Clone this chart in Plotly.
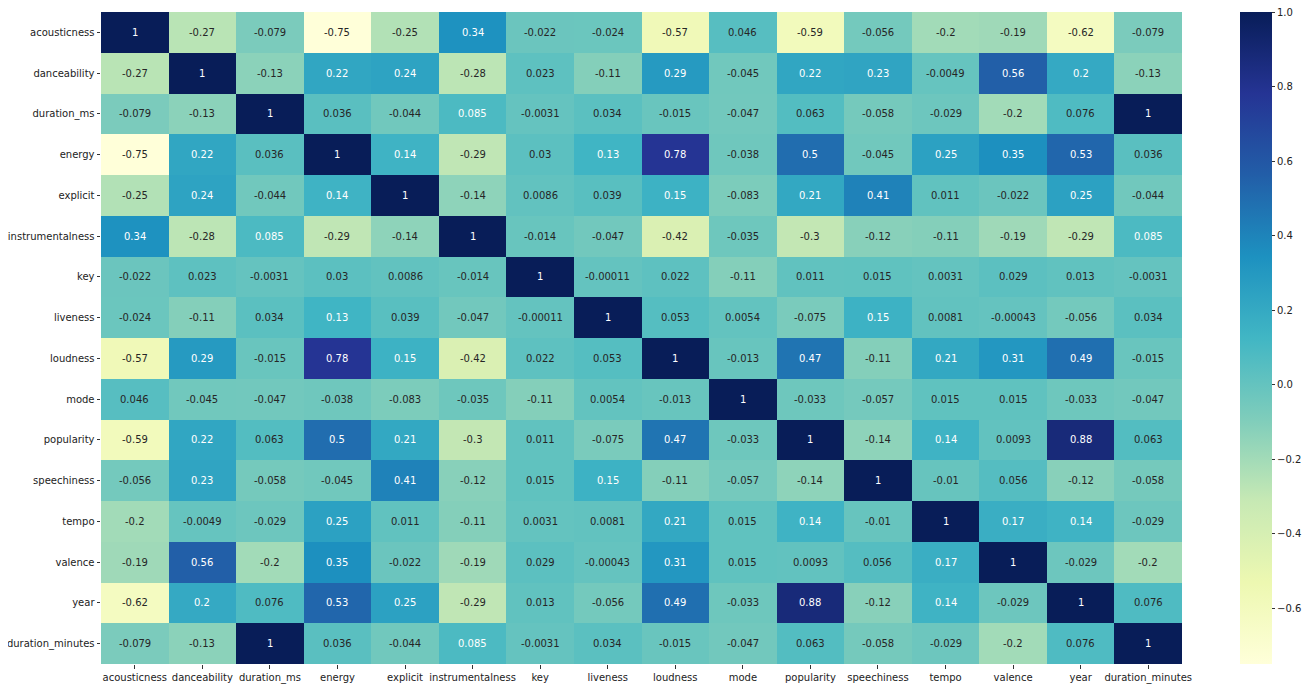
import plotly.graph_objects as go

labels = ["acousticness", "danceability", "duration_ms", "energy", "explicit",
          "instrumentalness", "key", "liveness", "loudness", "mode", "popularity",
          "speechiness", "tempo", "valence", "year", "duration_minutes"]

acousticness = [1, -0.27, -0.079, -0.75, -0.25, 0.34, -0.022, -0.024, -0.57, 0.046, -0.59, -0.056, -0.2, -0.19, -0.62, -0.079]
danceability = [-0.27, 1, -0.13, 0.22, 0.24, -0.28, 0.023, -0.11, 0.29, -0.045, 0.22, 0.23, -0.0049, 0.56, 0.2, -0.13]
duration_ms = [-0.079, -0.13, 1, 0.036, -0.044, 0.085, -0.0031, 0.034, -0.015, -0.047, 0.063, -0.058, -0.029, -0.2, 0.076, 1]
energy = [-0.75, 0.22, 0.036, 1, 0.14, -0.29, 0.03, 0.13, 0.78, -0.038, 0.5, -0.045, 0.25, 0.35, 0.53, 0.036]
explicit = [-0.25, 0.24, -0.044, 0.14, 1, -0.14, 0.0086, 0.039, 0.15, -0.083, 0.21, 0.41, 0.011, -0.022, 0.25, -0.044]
instrumentalness = [0.34, -0.28, 0.085, -0.29, -0.14, 1, -0.014, -0.047, -0.42, -0.035, -0.3, -0.12, -0.11, -0.19, -0.29, 0.085]
key = [-0.022, 0.023, -0.0031, 0.03, 0.0086, -0.014, 1, -0.00011, 0.022, -0.11, 0.011, 0.015, 0.0031, 0.029, 0.013, -0.0031]
liveness = [-0.024, -0.11, 0.034, 0.13, 0.039, -0.047, -0.00011, 1, 0.053, 0.0054, -0.075, 0.15, 0.0081, -0.00043, -0.056, 0.034]
loudness = [-0.57, 0.29, -0.015, 0.78, 0.15, -0.42, 0.022, 0.053, 1, -0.013, 0.47, -0.11, 0.21, 0.31, 0.49, -0.015]
mode = [0.046, -0.045, -0.047, -0.038, -0.083, -0.035, -0.11, 0.0054, -0.013, 1, -0.033, -0.057, 0.015, 0.015, -0.033, -0.047]
popularity = [-0.59, 0.22, 0.063, 0.5, 0.21, -0.3, 0.011, -0.075, 0.47, -0.033, 1, -0.14, 0.14, 0.0093, 0.88, 0.063]
speechiness = [-0.056, 0.23, -0.058, -0.045, 0.41, -0.12, 0.015, 0.15, -0.11, -0.057, -0.14, 1, -0.01, 0.056, -0.12, -0.058]
tempo = [-0.2, -0.0049, -0.029, 0.25, 0.011, -0.11, 0.0031, 0.0081, 0.21, 0.015, 0.14, -0.01, 1, 0.17, 0.14, -0.029]
valence = [-0.19, 0.56, -0.2, 0.35, -0.022, -0.19, 0.029, -0.00043, 0.31, 0.015, 0.0093, 0.056, 0.17, 1, -0.029, -0.2]
year = [-0.62, 0.2, 0.076, 0.53, 0.25, -0.29, 0.013, -0.056, 0.49, -0.033, 0.88, -0.12, 0.14, -0.029, 1, 0.076]
duration_minutes = [-0.079, -0.13, 1, 0.036, -0.044, 0.085, -0.0031, 0.034, -0.015, -0.047, 0.063, -0.058, -0.029, -0.2, 0.076, 1]

matrix = [acousticness, danceability, duration_ms, energy, explicit, instrumentalness,
          key, liveness, loudness, mode, popularity, speechiness, tempo, valence, year,
          duration_minutes]

colorbar_ticks = [-0.6, -0.4, -0.2, 0.0, 0.2, 0.4, 0.6, 0.8, 1.0]
colorbar_labels = ["\u22120.6", "\u22120.4", "\u22120.2", "0.0", "0.2", "0.4", "0.6", "0.8", "1.0"]

ylgnbu = ["#ffffd9", "#edf8b1", "#c7e9b4", "#7fcdbb", "#41b6c4",
          "#1d91c0", "#225ea8", "#253494", "#081d58"]
colorscale = [[i / (len(ylgnbu) - 1), c] for i, c in enumerate(ylgnbu)]

zmin, zmax = -0.75, 1.0


def hex2rgb(h):
    h = h.lstrip("#")
    return [int(h[i:i + 2], 16) / 255 for i in (0, 2, 4)]


def color_at(v):
    t = (v - zmin) / (zmax - zmin)
    t = min(max(t, 0), 1)
    n = len(ylgnbu) - 1
    i = min(int(t * n), n - 1)
    f = t * n - i
    a, b = hex2rgb(ylgnbu[i]), hex2rgb(ylgnbu[i + 1])
    return [a[k] + (b[k] - a[k]) * f for k in range(3)]


def luminance(rgb):
    lin = [c / 12.92 if c <= 0.03928 else ((c + 0.055) / 1.055) ** 2.4 for c in rgb]
    return 0.2126 * lin[0] + 0.7152 * lin[1] + 0.0722 * lin[2]


# page body has an 8px default margin, so the figure is offset by (8, 8)
W, H = 1303, 680
ML, MR, MT, MB = 93, 129, 4, 24
plot_w = W - ML - MR

fig = go.Figure(go.Heatmap(
    z=matrix, x=labels, y=labels, zmin=zmin, zmax=zmax,
    colorscale=colorscale, xgap=0, ygap=0,
    colorbar=dict(
        thickness=32, len=1.0, lenmode="fraction", y=0.5, yanchor="middle",
        x=(1232 - ML) / plot_w, xanchor="left", xpad=0, ypad=0, outlinewidth=0,
        tickvals=colorbar_ticks, ticktext=colorbar_labels,
        ticklabeloverflow="allow",
        ticks="outside", ticklen=3.5, tickwidth=0.8, tickcolor="#333",
        tickfont=dict(family="DejaVu Sans", size=10, color="#222"),
    ),
))

annotations = []
for r, row in enumerate(matrix):
    for c, v in enumerate(row):
        col = "#262626" if luminance(color_at(v)) > 0.408 else "white"
        annotations.append(dict(
            x=labels[c], y=labels[r], text=format(v, ".2g"), showarrow=False,
            font=dict(family="DejaVu Sans", size=10, color=col),
        ))

fig.update_layout(
    width=W, height=H,
    margin=dict(l=ML, r=MR, t=MT, b=MB, autoexpand=False),
    paper_bgcolor="white", plot_bgcolor="white",
    annotations=annotations,
    font=dict(family="DejaVu Sans", size=10, color="#222"),
)
fig.update_xaxes(showgrid=False, zeroline=False, ticks="outside", ticklen=3.5,
                 tickwidth=0.8, tickcolor="#333", tickangle=0, automargin=False,
                 tickfont=dict(family="DejaVu Sans", size=10, color="#222"))
fig.update_yaxes(showgrid=False, zeroline=False, ticks="outside", ticklen=3.5,
                 tickwidth=0.8, tickcolor="#333", autorange="reversed", automargin=False,
                 tickfont=dict(family="DejaVu Sans", size=10, color="#222"))

fig.write_html("out.html")
